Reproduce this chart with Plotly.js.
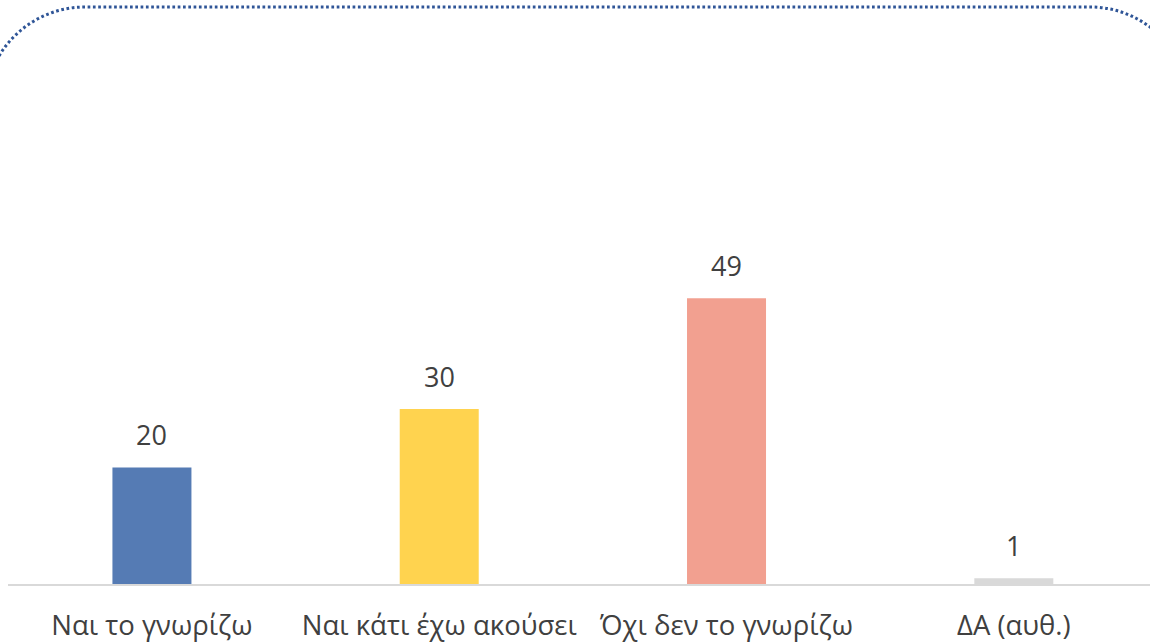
<!DOCTYPE html>
<html>
<head>
<meta charset="utf-8">
<script src="https://cdn.plot.ly/plotly-3.0.1.min.js"></script>
<style>html,body{margin:0;padding:0;background:#fff;}#chart{width:1150px;height:643px;}</style>
</head>
<body>
<div id="chart"></div>
<script>
const categories = ["Ναι το γνωρίζω", "Ναι κάτι έχω ακούσει", "Όχι δεν το γνωρίζω", "ΔΑ (αυθ.)"];
const values = [20, 30, 49, 1];
const barColors = ["#557BB4", "#FFD34F", "#F2A090", "#D9D9D9"];

const W = 1150, H = 643;
const M = {l: 8, r: 0, t: 40, b: 59};
const PW = W - M.l - M.r, PH = H - M.t - M.b;
function px2x(p) { return (p - M.l) / PW; }
function px2y(p) { return 1 - (p - M.t) / PH; }

// rounded dotted border (pixel geometry converted to paper coords)
const L = -15, R = 1190, T = 7, rad = 100, k = 0.5523 * rad, B = 700;
function P(x, y) { return px2x(x).toFixed(5) + "," + px2y(y).toFixed(5); }
const borderPath =
  "M" + P(L, B) + " L" + P(L, T + rad) +
  " C" + P(L, T + rad - k) + " " + P(L + rad - k, T) + " " + P(L + rad, T) +
  " L" + P(R - rad, T) +
  " C" + P(R - rad + k, T) + " " + P(R, T + rad - k) + " " + P(R, T + rad) +
  " L" + P(R, B);

const trace = {
  type: "bar",
  x: categories,
  y: values,
  marker: {color: barColors},
  hoverinfo: "none"
};

const annotations = categories.map((c, i) => ({
  x: c, y: values[i], xref: "x", yref: "y",
  text: String(values[i]),
  showarrow: false, yanchor: "bottom", yshift: 12,
  font: {family: "Open Sans, sans-serif", size: 27, color: "#404040"}
}));

const layout = {
  width: W, height: H,
  margin: M,
  paper_bgcolor: "#fff", plot_bgcolor: "#fff",
  showlegend: false,
  bargap: 0.725,
  font: {family: "Open Sans, sans-serif", color: "#404040"},
  xaxis: {
    type: "category",
    range: [-0.501, 3.474],
    showline: true, linecolor: "#D9D9D9", linewidth: 1.5,
    showgrid: false, zeroline: false, ticks: "",
    ticklabelstandoff: 16,
    tickfont: {family: "Open Sans, sans-serif", size: 27.5, color: "#404040"},
    fixedrange: true
  },
  yaxis: {
    range: [0, 544 / 5.83],
    visible: false, showgrid: false, zeroline: false, fixedrange: true
  },
  annotations: annotations,
  shapes: [{
    type: "path", xref: "paper", yref: "paper",
    path: borderPath,
    line: {color: "#2F5597", width: 3, dash: "2.7px,2.6px"},
    layer: "above"
  }]
};

Plotly.newPlot("chart", [trace], layout, {displayModeBar: false, staticPlot: true});
</script>
</body>
</html>
